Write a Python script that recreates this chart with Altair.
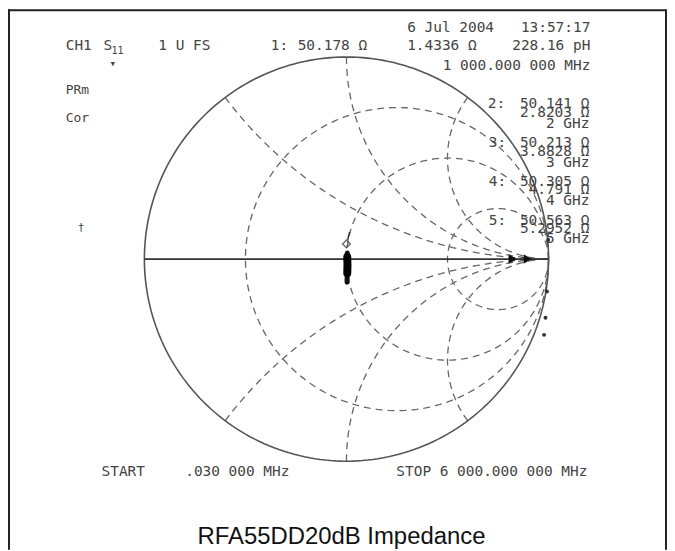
import numpy as np
import pandas as pd
import altair as alt

# ---- Smith chart graticule values ----
resistance_circles = [1 / 3, 1.0, 3.0]
reactance_arcs = [0.5, 1.0, 2.0, -0.5, -1.0, -2.0]

# ---- S11 trace (reflection coefficient) ----
trace_re = [0.004, 0.006, 0.006, 0.004, 0.003, 0.003]
trace_im = [0.030, 0.000, -0.040, -0.080, -0.100, -0.115]
core_re = [0.004, 0.005, 0.004]
core_im = [0.010, -0.030, -0.070]
tail_re = [0.016, 0.006]
tail_im = [0.135, 0.095]
marker1_re = [0.0]
marker1_im = [0.075]
arrow_re = [0.823, 0.897]
arrow_im = [0.0, 0.0]
edge_re = [0.998, 0.992, 0.985, 0.978]
edge_im = [0.095, -0.160, -0.290, -0.375]

# ---- screen annotations ----
left_texts = ["CH1", "S", "11", "1 U FS", "1:", "50.178 Ω", "6 Jul 2004", "1.4336 Ω",
              "PRm", "Cor", "▾", "†",
              "2:", "3:", "4:", "5:", "START", ".030 000 MHz"]
right_texts = ["13:57:17", "228.16 pH", "1 000.000 000 MHz",
               "50.141 Ω", "2.8203 Ω", "2 GHz",
               "50.213 Ω", "3.8828 Ω", "3 GHz",
               "50.305 Ω", "4.791 Ω", "4 GHz",
               "50.563 Ω", "5.2952 Ω", "5 GHz",
               "STOP 6 000.000 000 MHz"]
title_text = "RFA55DD20dB Impedance"

# layout (page pixel positions of the annotations)
left_pos = [(66, 45), (104, 45), (112, 50), (159, 45), (272, 45), (299, 45), (409, 27), (409, 45),
            (66, 89), (66, 117), (110, 63), (78, 228),
            (490, 103), (491, 142), (491, 182), (491, 221), (102, 473), (186, 473)]
left_size = [14.5, 14.5, 10, 14.5, 14.5, 14.5, 14.5, 14.5,
             13, 13, 11, 11, 14.5, 14.5, 14.5, 14.5, 14.5, 14.5]
right_pos = [(593, 27), (593, 45), (593, 65),
             (592, 103), (592, 112), (592, 123),
             (592, 142), (592, 151), (592, 162),
             (592, 182), (592, 190), (592, 201),
             (592, 221), (592, 229), (592, 239),
             (590, 473)]

W, H = 662, 543
CX, CY, R = 340.0, 251.0, 203.0  # view pixel position of chart centre and radius
xdom = [-CX / R, (W - CX) / R]
ydom = [-(H - CY) / R, CY / R]
xs = alt.Scale(domain=xdom, nice=False, zero=False)
ys = alt.Scale(domain=ydom, nice=False, zero=False)

# ---- build graticule geometry ----
rows = []
th = np.linspace(0, 2 * np.pi, 241)
for i, r in enumerate(resistance_circles):
    c, rho = r / (1 + r), 1 / (1 + r)
    for k, t in enumerate(th):
        rows.append(dict(id=f"r{i}", o=k, u=c + rho * np.cos(t), v=rho * np.sin(t)))
rr = np.tan(np.linspace(0, np.pi / 2 - 1e-3, 240))
for i, x in enumerate(reactance_arcs):
    z = rr + 1j * x
    g = (z - 1) / (z + 1)
    for k, gv in enumerate(g):
        rows.append(dict(id=f"x{i}", o=k, u=gv.real, v=gv.imag))
grid = pd.DataFrame(rows)

outer = pd.DataFrame(dict(o=range(len(th)), u=np.cos(th), v=np.sin(th)))
axis_df = pd.DataFrame(dict(o=[0, 1], u=[-1.0, 1.0], v=[0.0, 0.0]))
trace = pd.DataFrame(dict(o=range(len(trace_re)), u=trace_re, v=trace_im))
core = pd.DataFrame(dict(o=range(len(core_re)), u=core_re, v=core_im))
tail = pd.DataFrame(dict(o=range(len(tail_re)), u=tail_re, v=tail_im))
m1 = pd.DataFrame(dict(u=marker1_re, v=marker1_im))
arrows = pd.DataFrame(dict(u=arrow_re, v=arrow_im))
edge = pd.DataFrame(dict(u=edge_re, v=edge_im))

X = lambda: alt.X("u:Q", scale=xs, axis=None)
Y = lambda: alt.Y("v:Q", scale=ys, axis=None)

grid_layer = alt.Chart(grid).mark_line(color="#666666", strokeWidth=1.3, strokeDash=[7, 5]).encode(
    x=X(), y=Y(), detail="id:N", order="o:Q")
outer_layer = alt.Chart(outer).mark_line(color="#555555", strokeWidth=1.6).encode(x=X(), y=Y(), order="o:Q")
axis_layer = alt.Chart(axis_df).mark_line(color="#333333", strokeWidth=1.6).encode(x=X(), y=Y(), order="o:Q")
trace_layer = alt.Chart(trace).mark_line(color="#111111", strokeWidth=5, strokeCap="round",
                                         strokeJoin="round").encode(x=X(), y=Y(), order="o:Q")
core_layer = alt.Chart(core).mark_line(color="#000000", strokeWidth=8, strokeCap="round",
                                       strokeJoin="round").encode(x=X(), y=Y(), order="o:Q")
tail_layer = alt.Chart(tail).mark_line(color="#333333", strokeWidth=1.5).encode(x=X(), y=Y(), order="o:Q")
m1_layer = alt.Chart(m1).mark_point(shape="diamond", color="#333333", size=60, strokeWidth=1.5).encode(x=X(), y=Y())
arrow_layer = alt.Chart(arrows).mark_point(shape="triangle-right", filled=True, color="#111111", size=90,
                                           opacity=1).encode(x=X(), y=Y())
edge_layer = alt.Chart(edge).mark_point(shape="circle", filled=True, color="#333333", size=16,
                                        opacity=1).encode(x=X(), y=Y())

ldf = pd.DataFrame(dict(t=left_texts, px=[p[0] - 8 for p in left_pos], py=[p[1] - 8 for p in left_pos],
                        fs=left_size))
rdf = pd.DataFrame(dict(t=right_texts, px=[p[0] - 8 for p in right_pos], py=[p[1] - 8 for p in right_pos]))
tdf = pd.DataFrame(dict(t=[title_text], px=[343 - 8], py=[538 - 8]))

ltext = alt.Chart(ldf).mark_text(align="left", baseline="middle", font="DejaVu Sans Mono",
                                 color="#444444").encode(
    x=alt.X("px:Q", scale=None), y=alt.Y("py:Q", scale=None), text="t:N",
    size=alt.Size("fs:Q", scale=None, legend=None))
rtext = alt.Chart(rdf).mark_text(align="right", baseline="middle", font="DejaVu Sans Mono",
                                 fontSize=14.5, color="#444444").encode(
    x=alt.X("px:Q", scale=None), y=alt.Y("py:Q", scale=None), text="t:N")
ttext = alt.Chart(tdf).mark_text(align="center", baseline="middle", font="Liberation Sans",
                                 fontSize=24, color="#111111").encode(
    x=alt.X("px:Q", scale=None), y=alt.Y("py:Q", scale=None), text="t:N")

frame = [
    alt.Chart(pd.DataFrame({"a": [0]})).mark_rule(color="#222222", strokeWidth=2).encode(
        x=alt.value(1), y=alt.value(0), y2=alt.value(H)),
    alt.Chart(pd.DataFrame({"a": [0]})).mark_rule(color="#222222", strokeWidth=2).encode(
        x=alt.value(0), x2=alt.value(W - 1), y=alt.value(1)),
    alt.Chart(pd.DataFrame({"a": [0]})).mark_rule(color="#222222", strokeWidth=2).encode(
        x=alt.value(W - 1), y=alt.value(0), y2=alt.value(H)),
]

chart = alt.layer(grid_layer, outer_layer, axis_layer, trace_layer, core_layer, tail_layer, m1_layer,
                  arrow_layer, edge_layer, ltext, rtext, ttext, *frame).properties(
    width=W, height=H, padding=0, autosize="none", background="white"
).configure_view(stroke=None)

chart.save("out.html", embed_options={"renderer": "svg", "actions": False})
